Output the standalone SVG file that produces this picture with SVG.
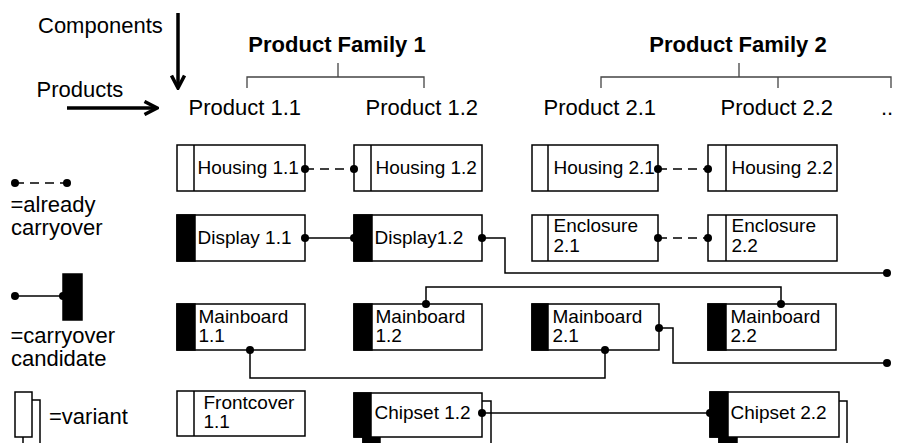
<svg xmlns="http://www.w3.org/2000/svg" width="897" height="443" viewBox="0 0 897 443">
  <style>
    text { font-family: "Liberation Sans", Arial, sans-serif; fill: #000; }
    .head { font-size: 22px; }
    .fam { font-size: 22px; font-weight: bold; text-anchor: middle; }
    .lbl { font-size: 19px; }
    .box { fill: #fff; stroke: #000; stroke-width: 1.5; }
    .bar { fill: #000; stroke: #000; stroke-width: 1.5; }
    .div { stroke: #000; stroke-width: 1.5; }
    .brace { fill: none; stroke: #444; stroke-width: 1.3; }
    .conn { fill: none; stroke: #000; stroke-width: 1.5; }
    .dash { stroke-dasharray: 9 6; }
    .dot { fill: #000; }
    .big { fill: none; stroke: #000; stroke-width: 3.5; }
  </style>
  <defs>
    <marker id="arrow" viewBox="0 0 16 16" refX="14" refY="8" markerWidth="16" markerHeight="16" markerUnits="userSpaceOnUse" orient="auto">
      <path d="M1.5,1.5 L14,8 L1.5,14.5" fill="none" stroke="#000" stroke-width="3.5"/>
    </marker>
  </defs>

  <!-- axis labels -->
  <g id="axes">
    <text class="head" x="38" y="33">Components</text>
    <line class="big" x1="178" y1="13" x2="178" y2="88" marker-end="url(#arrow)"/>
    <text class="head" x="36.5" y="97">Products</text>
    <line class="big" x1="67" y1="108" x2="157" y2="108" marker-end="url(#arrow)"/>
  </g>

  <!-- product families -->
  <g id="family-1">
    <text class="fam" x="337" y="52">Product Family 1</text>
    <path class="brace" d="M338,63 V77 M247,88 V77 H424 V88"/>
  </g>
  <g id="family-2">
    <text class="fam" x="738" y="52">Product Family 2</text>
    <path class="brace" d="M739,63 V77 M601,88 V77 H891 V88 M778,77 V88"/>
  </g>

  <g id="products">
    <text class="head" x="188.5" y="115">Product 1.1</text>
    <text class="head" x="365.5" y="115">Product 1.2</text>
    <text class="head" x="543.5" y="115">Product 2.1</text>
    <text class="head" x="720.5" y="115">Product 2.2</text>
    <text class="head" x="881" y="115">..</text>
  </g>

  <!-- components -->
  <g id="housing-1-1">
    <rect class="box" x="177" y="145" width="128" height="46"/>
    <line class="div" x1="194" y1="145" x2="194" y2="191"/>
    <text class="lbl" x="197.5" y="174">Housing 1.1</text>
  </g>
  <g id="housing-1-2">
    <rect class="box" x="354" y="145" width="128" height="46"/>
    <line class="div" x1="371" y1="145" x2="371" y2="191"/>
    <text class="lbl" x="375.5" y="174">Housing 1.2</text>
  </g>
  <g id="housing-2-1">
    <rect class="box" x="532" y="145" width="126" height="46"/>
    <line class="div" x1="548" y1="145" x2="548" y2="191"/>
    <text class="lbl" x="553.5" y="174">Housing 2.1</text>
  </g>
  <g id="housing-2-2">
    <rect class="box" x="708" y="145" width="129" height="46"/>
    <line class="div" x1="726" y1="145" x2="726" y2="191"/>
    <text class="lbl" x="731.5" y="174">Housing 2.2</text>
  </g>

  <g id="display-1-1">
    <rect class="box" x="177" y="215" width="128" height="46"/>
    <rect class="bar" x="177" y="215" width="18" height="46"/>
    <text class="lbl" x="197.5" y="244">Display 1.1</text>
  </g>
  <g id="display-1-2">
    <rect class="box" x="354" y="215" width="128" height="46"/>
    <rect class="bar" x="354" y="215" width="18" height="46"/>
    <text class="lbl" x="374.5" y="244">Display1.2</text>
  </g>
  <g id="enclosure-2-1">
    <rect class="box" x="532" y="215" width="126" height="46"/>
    <line class="div" x1="548" y1="215" x2="548" y2="261"/>
    <text class="lbl" x="553.5" y="232">Enclosure</text>
    <text class="lbl" x="553.5" y="252">2.1</text>
  </g>
  <g id="enclosure-2-2">
    <rect class="box" x="708" y="215" width="129" height="46"/>
    <line class="div" x1="726" y1="215" x2="726" y2="261"/>
    <text class="lbl" x="731.5" y="232">Enclosure</text>
    <text class="lbl" x="731.5" y="252">2.2</text>
  </g>

  <g id="mainboard-1-1">
    <rect class="box" x="177" y="304" width="128" height="46"/>
    <rect class="bar" x="177" y="304" width="18" height="46"/>
    <text class="lbl" x="198.5" y="323">Mainboard</text>
    <text class="lbl" x="198.5" y="342">1.1</text>
  </g>
  <g id="mainboard-1-2">
    <rect class="box" x="354" y="304" width="128" height="46"/>
    <rect class="bar" x="354" y="304" width="18" height="46"/>
    <text class="lbl" x="375.5" y="323">Mainboard</text>
    <text class="lbl" x="375.5" y="342">1.2</text>
  </g>
  <g id="mainboard-2-1">
    <rect class="box" x="532" y="304" width="127" height="46"/>
    <rect class="bar" x="532" y="304" width="16" height="46"/>
    <text class="lbl" x="552.5" y="323">Mainboard</text>
    <text class="lbl" x="552.5" y="342">2.1</text>
  </g>
  <g id="mainboard-2-2">
    <rect class="box" x="708" y="304" width="128" height="46"/>
    <rect class="bar" x="708" y="304" width="18" height="46"/>
    <text class="lbl" x="730.5" y="323">Mainboard</text>
    <text class="lbl" x="730.5" y="342">2.2</text>
  </g>

  <g id="frontcover-1-1">
    <rect class="box" x="177" y="391" width="128" height="45"/>
    <line class="div" x1="194" y1="391" x2="194" y2="436"/>
    <text class="lbl" x="203.5" y="409">Frontcover</text>
    <text class="lbl" x="203.5" y="428">1.1</text>
  </g>
  <g id="chipset-1-2">
    <rect class="box" x="363" y="401" width="128" height="50"/>
    <rect class="bar" x="363" y="401" width="17" height="50"/>
    <rect class="box" x="354" y="393" width="128" height="44"/>
    <rect class="bar" x="354" y="393" width="17" height="44"/>
    <text class="lbl" x="374.5" y="419">Chipset 1.2</text>
  </g>
  <g id="chipset-2-2">
    <rect class="box" x="719" y="401" width="128" height="50"/>
    <rect class="bar" x="719" y="401" width="18" height="50"/>
    <rect class="box" x="710" y="392" width="129" height="45"/>
    <rect class="bar" x="710" y="392" width="18" height="45"/>
    <text class="lbl" x="730.5" y="419">Chipset 2.2</text>
  </g>

  <!-- carryover links -->
  <g id="connectors">
    <line class="conn dash" x1="305" y1="169" x2="354" y2="169"/>
    <circle class="dot" cx="305" cy="169" r="4"/>
    <circle class="dot" cx="354" cy="169" r="4"/>

    <line class="conn dash" x1="658" y1="169" x2="708" y2="169"/>
    <circle class="dot" cx="658" cy="169" r="4"/>
    <circle class="dot" cx="708" cy="169" r="4"/>

    <line class="conn dash" x1="658" y1="238" x2="708" y2="238"/>
    <circle class="dot" cx="658" cy="238" r="4"/>
    <circle class="dot" cx="708" cy="238" r="4"/>

    <line class="conn" x1="305" y1="238" x2="354" y2="238"/>
    <circle class="dot" cx="305" cy="238" r="4"/>
    <circle class="dot" cx="354" cy="238" r="4"/>

    <path class="conn" d="M482,238 H505 V273 H887"/>
    <circle class="dot" cx="482" cy="238" r="4"/>
    <circle class="dot" cx="887" cy="273" r="4"/>

    <path class="conn" d="M250,350 V378 H605 V350"/>
    <circle class="dot" cx="250" cy="350" r="4"/>
    <circle class="dot" cx="605" cy="350" r="4"/>

    <path class="conn" d="M426,304 V287 H781 V304"/>
    <circle class="dot" cx="426" cy="304" r="4"/>
    <circle class="dot" cx="781" cy="304" r="4"/>

    <path class="conn" d="M659,328 H673 V363 H887"/>
    <circle class="dot" cx="659" cy="328" r="4"/>
    <circle class="dot" cx="887" cy="363" r="4"/>

    <line class="conn" x1="482" y1="413" x2="710" y2="413"/>
    <circle class="dot" cx="482" cy="413" r="4"/>
    <circle class="dot" cx="710" cy="413" r="4"/>
  </g>

  <!-- key -->
  <g id="legend">
    <line class="conn dash" x1="15" y1="183" x2="67" y2="183"/>
    <circle class="dot" cx="15" cy="183" r="4"/>
    <circle class="dot" cx="67" cy="183" r="4"/>
    <text class="head" x="10.5" y="212">=already</text>
    <text class="head" x="11" y="235">carryover</text>

    <line class="conn" x1="15" y1="296" x2="63" y2="296"/>
    <circle class="dot" cx="15" cy="296" r="4"/>
    <circle class="dot" cx="63" cy="296" r="4"/>
    <rect class="bar" x="63" y="274" width="19" height="46"/>
    <text class="head" x="10.5" y="343">=carryover</text>
    <text class="head" x="11" y="366">candidate</text>

    <rect class="box" x="23" y="400" width="17" height="60"/>
    <rect class="box" x="15" y="392" width="17" height="45"/>
    <text class="head" x="49" y="424">=variant</text>
  </g>
</svg>
